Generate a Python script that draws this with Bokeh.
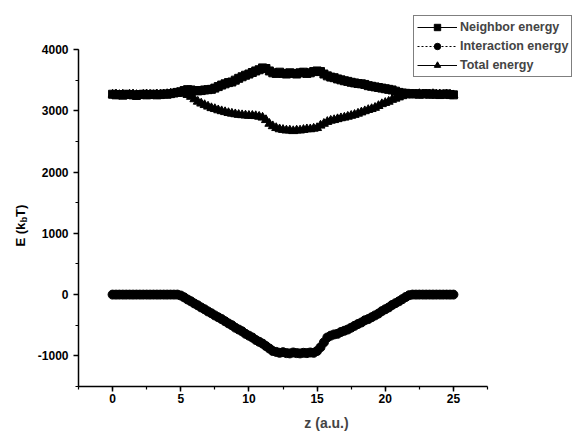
from math import pi
from bokeh.plotting import figure
from bokeh.layouts import row
from bokeh.models import Legend, LegendItem, Label, SingleIntervalTicker, PrintfTickFormatter
from bokeh.embed import file_html
from bokeh.resources import INLINE

z = [0, 0.25, 0.5, 0.75, 1, 1.25, 1.5, 1.75, 2, 2.25, 2.5, 2.75, 3, 3.25, 3.5, 3.75, 4, 4.25, 4.5, 4.75,
     5, 5.25, 5.5, 5.75, 6, 6.25, 6.5, 6.75, 7, 7.25, 7.5, 7.75, 8, 8.25, 8.5, 8.75, 9, 9.25, 9.5, 9.75,
     10, 10.25, 10.5, 10.75, 11, 11.25, 11.5, 11.75, 12, 12.25, 12.5, 12.75, 13, 13.25, 13.5, 13.75, 14, 14.25, 14.5, 14.75,
     15, 15.25, 15.5, 15.75, 16, 16.25, 16.5, 16.75, 17, 17.25, 17.5, 17.75, 18, 18.25, 18.5, 18.75, 19, 19.25, 19.5, 19.75,
     20, 20.25, 20.5, 20.75, 21, 21.25, 21.5, 21.75, 22, 22.25, 22.5, 22.75, 23, 23.25, 23.5, 23.75, 24, 24.25, 24.5, 24.75,
     25]

neighbor = [3270, 3260, 3265, 3255, 3270, 3265, 3260, 3250, 3265, 3270, 3260, 3265, 3270, 3260, 3265, 3275, 3270, 3280, 3290, 3300,
            3310, 3330, 3345, 3340, 3330, 3325, 3330, 3340, 3345, 3350, 3370, 3395, 3420, 3440, 3460, 3470, 3500, 3530, 3555, 3580,
            3600, 3625, 3650, 3670, 3700, 3690, 3650, 3620, 3610, 3630, 3610, 3600, 3620, 3610, 3600, 3620, 3630, 3610, 3620, 3640,
            3650, 3640, 3600, 3570, 3550, 3540, 3520, 3505, 3490, 3480, 3465, 3455, 3445, 3440, 3430, 3410, 3400, 3390, 3380, 3370,
            3360, 3350, 3340, 3320, 3300, 3290, 3285, 3280, 3275, 3280, 3270, 3275, 3280, 3270, 3275, 3270, 3265, 3270, 3275, 3265,
            3260]

interaction = [0, 0, 0, 0, 0, 0, 0, 0, 0, 0, 0, 0, 0, 0, 0, 0, 0, 0, 0, 0,
               -15, -45, -80, -110, -145, -175, -210, -240, -275, -305, -340, -370, -400, -435, -470, -500, -540, -570, -600, -640,
               -670, -700, -740, -770, -800, -840, -880, -920, -935, -950, -940, -955, -960, -945, -955, -960, -950, -955, -945, -950,
               -920, -860, -780, -700, -670, -650, -640, -610, -590, -570, -540, -510, -480, -455, -420, -400, -370, -340, -310, -270,
               -240, -210, -170, -140, -110, -75, -40, -10, 0, 0, 0, 0, 0, 0, 0, 0, 0, 0, 0, 0,
               0]

total = [3265, 3270, 3260, 3265, 3255, 3265, 3270, 3260, 3255, 3265, 3270, 3265, 3260, 3270, 3265, 3270, 3275, 3280, 3285, 3290,
         3290, 3280, 3260, 3230, 3190, 3150, 3120, 3095, 3070, 3045, 3030, 3010, 2995, 2980, 2965, 2955, 2945, 2935, 2930, 2925,
         2920, 2920, 2915, 2905, 2890, 2850, 2790, 2750, 2720, 2700, 2690, 2680, 2680, 2670, 2680, 2680, 2690, 2700, 2700, 2710,
         2720, 2760, 2790, 2820, 2840, 2850, 2865, 2880, 2890, 2905, 2920, 2935, 2955, 2975, 2995, 3015, 3030, 3050, 3080, 3110,
         3130, 3150, 3180, 3200, 3220, 3240, 3255, 3270, 3270, 3265, 3275, 3270, 3265, 3270, 3275, 3265, 3270, 3260, 3270, 3265,
         3255]

labels = ["Neighbor energy", "Interaction energy", "Total energy"]
x_ticks_bounds = (-2.5, 27.5)
y_ticks_bounds = (-1500, 4000)

FONT = "Liberation Sans"
W_L = 30          # width of the strip that holds the y-axis title
H = 433

# ---------- main chart ----------
p = figure(width=574 - W_L, height=H, x_range=(-2.5, 33.88), y_range=(-1500, 4800),
           output_backend="svg", toolbar_location=None,
           min_border_left=78 - W_L, min_border_right=0, min_border_top=0, min_border_bottom=47)
p.outline_line_color = None
p.grid.visible = False
p.background_fill_color = "white"
p.border_fill_color = "white"

ln = p.line(z, neighbor, line_color="black", line_width=1)
sn = p.scatter(z, neighbor, marker="square", size=8, color="black")
li = p.line(z, interaction, line_color="black", line_width=1, line_dash="2 2")
si = p.scatter(z, interaction, marker="circle", size=9, color="black")
lt = p.line(z, total, line_color="black", line_width=1)
st = p.scatter(z, total, marker="triangle", size=9, color="black")

p.xaxis.ticker = SingleIntervalTicker(interval=5, num_minor_ticks=2)
p.yaxis.ticker = SingleIntervalTicker(interval=1000, num_minor_ticks=2)
p.xaxis.bounds = x_ticks_bounds
p.yaxis.bounds = y_ticks_bounds
for ax in (p.xaxis[0], p.yaxis[0]):
    ax.axis_line_width = 1.5
    ax.major_tick_line_width = 1.5
    ax.minor_tick_line_width = 1.2
    ax.major_tick_in = 0
    ax.major_tick_out = 5
    ax.minor_tick_in = 0
    ax.minor_tick_out = 3
    ax.major_label_text_font = FONT
    ax.major_label_text_font_size = "12px"
    ax.major_label_text_font_style = "bold"
    ax.major_label_text_color = "black"
    ax.axis_line_color = "black"
    ax.formatter = PrintfTickFormatter(format="%d")
p.xaxis.major_label_standoff = 2
p.yaxis.major_label_standoff = 5
p.xaxis.axis_label = "z (a.u.)"
p.xaxis.axis_label_text_font = FONT
p.xaxis.axis_label_text_font_size = "14px"
p.xaxis.axis_label_text_font_style = "bold"
p.xaxis.axis_label_standoff = 9

legend = Legend(items=[LegendItem(label=labels[0], renderers=[ln, sn]),
                       LegendItem(label=labels[1], renderers=[li, si]),
                       LegendItem(label=labels[2], renderers=[lt, st])],
                location=(335, 309))
legend.glyph_width = 40
legend.glyph_height = 16
legend.label_height = 16
legend.spacing = 3
legend.padding = 3
legend.margin = 0
legend.label_standoff = 3
legend.label_text_font = FONT
legend.label_text_font_size = "12.5px"
legend.label_text_font_style = "bold"
legend.border_line_color = "black"
legend.border_line_width = 1
legend.background_fill_color = "white"
legend.background_fill_alpha = 1
p.add_layout(legend, "center")

# ---------- strip with the y-axis title E (k_b T); shares the main y scale ----------
t = figure(width=W_L, height=H, x_range=(0, W_L), y_range=p.y_range,
           output_backend="svg", toolbar_location=None,
           x_axis_location=None, y_axis_location=None,
           min_border_left=0, min_border_right=0, min_border_top=0, min_border_bottom=0)
t.outline_line_color = None
t.grid.visible = False
common = dict(x_units="data", y_units="data", angle=pi / 2, text_align="left",
              text_baseline="middle", text_font=FONT, text_font_style="bold", text_color="black")
t.add_layout(Label(x=20, y=785, text="E (k", text_font_size="13px", **common))
t.add_layout(Label(x=23.5, y=1180, text="b", text_font_size="9px", **common))
t.add_layout(Label(x=20, y=1268, text="T)", text_font_size="13px", **common))

layout = row(t, p, spacing=0)
open("out.html", "w").write(file_html(layout, INLINE))
